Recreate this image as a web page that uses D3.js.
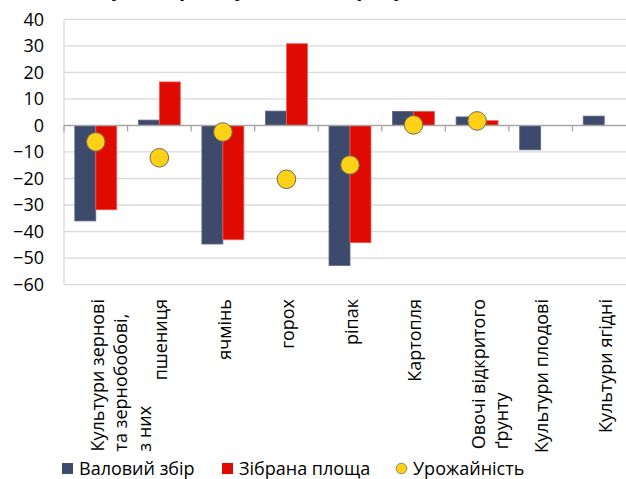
<!DOCTYPE html>
<html>
<head>
<meta charset="utf-8">
<script src="https://cdn.jsdelivr.net/npm/d3@7"></script>
<style>
  html, body { margin: 0; padding: 0; background: #fff; }
  svg { display: block; font-family: "Open Sans", sans-serif; }
</style>
</head>
<body>
<div id="chart"></div>
<script>
// категорії (рядки підпису по осі X)
const categories = [
  ["Культури зернові", "та зернобобові,", "з них"],
  ["пшениця"],
  ["ячмінь"],
  ["горох"],
  ["ріпак"],
  ["Картопля"],
  ["Овочі відкритого", "ґрунту"],
  ["Культури плодові"],
  ["Культури ягідні"]
];
// значення серій, %
const grossHarvest = [-36.0, 2.0, -44.7, 5.4, -52.8, 5.3, 3.2, -9.2, 3.5];
const harvestedArea = [-31.8, 16.4, -43.1, 30.8, -44.2, 5.3, 1.8, null, null];
const cropYield = [-6.2, -12.2, -2.5, -20.3, -14.9, 0.2, 1.7, null, null];
const yTicks = [40, 30, 20, 10, 0, -10, -20, -30, -40, -50, -60];
const seriesNames = ["Валовий збір", "Зібрана площа", "Урожайність"];
const titleText = "Зміна у 2022 році, у % до 2021 року";

const W = 626, H = 479;
const svg = d3.select("#chart").append("svg")
  .attr("width", W).attr("height", H);

const colBlue = "#3e4a6b", colRed = "#e00b00", colYellow = "#fcd116";

// шкали
const x = d3.scaleBand()
  .domain(d3.range(categories.length))
  .range([64, 636]);
const y = d3.scaleLinear()
  .domain([-60, 40])
  .range([284.6, 19.3]);

// заголовок (обрізаний угорі, як в оригіналі)
svg.append("text")
  .attr("x", 225).attr("y", -4)
  .attr("text-anchor", "middle")
  .style("font-weight", "bold")
  .style("font-size", "20px")
  .text(titleText);

// сітка
svg.append("g")
  .selectAll("line")
  .data(yTicks.filter(d => d !== 0))
  .join("line")
  .attr("x1", 64).attr("x2", 636)
  .attr("y1", d => y(d)).attr("y2", d => y(d))
  .attr("stroke", "#d9d9d9")
  .attr("stroke-width", 1.3);

// вертикальна вісь
svg.append("line")
  .attr("x1", 64).attr("x2", 64)
  .attr("y1", y(40)).attr("y2", y(-60))
  .attr("stroke", "#d9d9d9")
  .attr("stroke-width", 1.3);

// підписи осі Y
const yAxis = d3.axisLeft(y).tickValues(yTicks).tickSize(0).tickPadding(0);
svg.append("g")
  .attr("transform", "translate(44,0)")
  .call(yAxis)
  .call(g => g.select(".domain").remove())
  .call(g => g.selectAll("text")
    .attr("fill", "#000")
    .style("font-size", "18px")
    .style("font-family", "'Open Sans', sans-serif"));

// стовпці
const inner = x.bandwidth() * 0.66;
const barW = inner / 2;
const off = (x.bandwidth() - inner) / 2;

const barSeries = [
  { values: grossHarvest, fill: colBlue, stroke: "#5b6688", k: 0 },
  { values: harvestedArea, fill: colRed, stroke: "#f0605a", k: 1 }
];
barSeries.forEach(s => {
  svg.append("g")
    .selectAll("rect")
    .data(s.values.map((v, i) => ({ v, i })).filter(d => d.v != null))
    .join("rect")
    .attr("x", d => x(d.i) + off + s.k * barW)
    .attr("width", barW)
    .attr("y", d => y(Math.max(0, d.v)))
    .attr("height", d => Math.abs(y(d.v) - y(0)))
    .attr("fill", s.fill)
    .attr("stroke", s.stroke)
    .attr("stroke-width", 0.8);
});

// вісь X (нульова лінія з поділками)
const xAxisG = svg.append("g");
xAxisG.append("line")
  .attr("x1", 64).attr("x2", 636)
  .attr("y1", y(0)).attr("y2", y(0))
  .attr("stroke", "#a6a6a6")
  .attr("stroke-width", 1.5);
xAxisG.selectAll(".tk")
  .data(d3.range(categories.length + 1))
  .join("line")
  .attr("class", "tk")
  .attr("x1", d => 64 + d * x.step()).attr("x2", d => 64 + d * x.step())
  .attr("y1", y(0)).attr("y2", y(0) + 6)
  .attr("stroke", "#a6a6a6")
  .attr("stroke-width", 1.3);

// точки урожайності
svg.append("g")
  .selectAll("circle")
  .data(cropYield.map((v, i) => ({ v, i })).filter(d => d.v != null))
  .join("circle")
  .attr("cx", d => x(d.i) + x.bandwidth() / 2)
  .attr("cy", d => y(d.v))
  .attr("r", 9.3)
  .attr("fill", colYellow)
  .attr("stroke", "#6e6a5a")
  .attr("stroke-width", 1);

// підписи категорій (повернуті)
const labTop = 299;
const lineGap = 23.5;
categories.forEach((lines, i) => {
  const cx = x(i) + x.bandwidth() / 2 + 1.5;
  const g = svg.append("g");
  const texts = lines.map((t, j) => g.append("text")
    .attr("text-anchor", "start")
    .attr("dy", "0.35em")
    .style("font-size", "18px")
    .text(t));
  const maxLen = d3.max(texts, t => t.node().getComputedTextLength());
  const bottom = labTop + maxLen;
  texts.forEach((t, j) => {
    t.attr("transform", `translate(${cx + j * lineGap},${bottom}) rotate(-90)`);
  });
});

// легенда
const legend = svg.append("g").style("font-size", "18px");
const legItems = [
  { name: seriesNames[0], x: 62, type: "rect", color: colBlue },
  { name: seriesNames[1], x: 222, type: "rect", color: colRed },
  { name: seriesNames[2], x: 396, type: "circle", color: colYellow }
];
legItems.forEach(d => {
  if (d.type === "rect") {
    legend.append("rect")
      .attr("x", d.x).attr("y", 463)
      .attr("width", 11).attr("height", 11)
      .attr("fill", d.color);
  } else {
    legend.append("circle")
      .attr("cx", d.x + 5.5).attr("cy", 468.5).attr("r", 5.3)
      .attr("fill", d.color)
      .attr("stroke", "#6e6a5a").attr("stroke-width", 0.8);
  }
  legend.append("text")
    .attr("x", d.x + 17).attr("y", 475)
    .text(d.name);
});
</script>
</body>
</html>
